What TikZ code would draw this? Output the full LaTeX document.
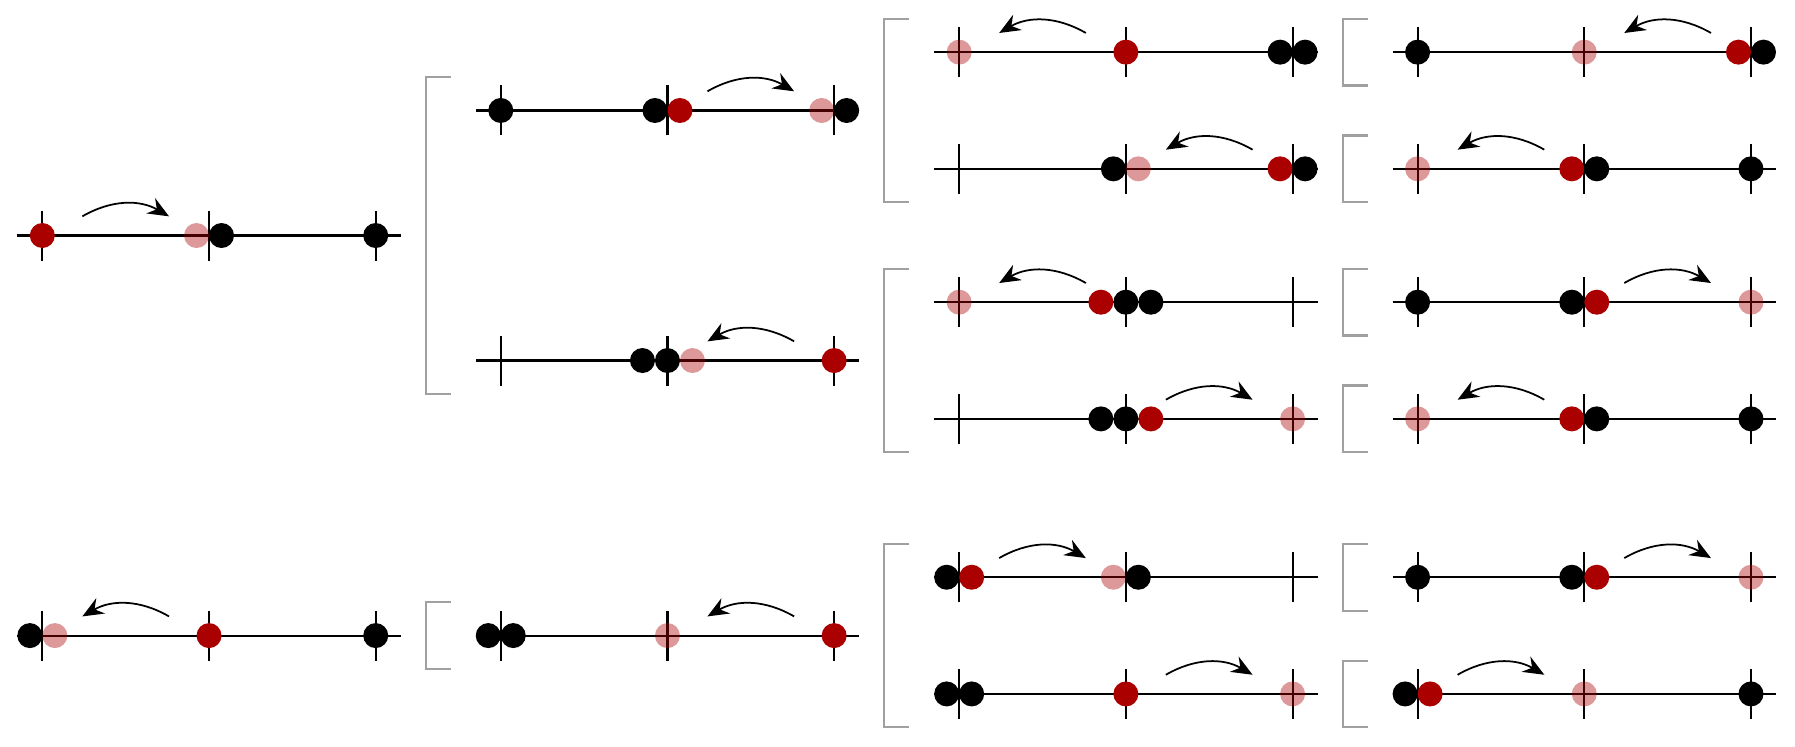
\documentclass[tikz,border=0pt]{standalone}
\usepackage{xcolor}
\definecolor{fichared}{RGB}{170,0,0}
\definecolor{corchgris}{RGB}{160,160,160}
\usepackage{tikz}
\usetikzlibrary{arrows.meta}

\tikzset{
  eje/.style={line width=0.6pt,black},
  negra/.style={fill=black},
  roja/.style={fill=fichared},
  sombra/.style={fill=fichared,fill opacity=0.4},
  salto/.style={line width=0.5pt,-{Stealth[length=6pt,width=5pt,inset=2pt]}},
  llave/.style={line width=0.6pt,corchgris}
}
% recta con tres marcas: #1 = x de la primera marca, #2 = y
\newcommand{\recta}[2]{%
  \draw[eje] (#1-0.15,#2) -- (#1+2.15,#2);
  \foreach \m in {0,1,2}{\draw[eje] (#1+\m,#2-0.15) -- (#1+\m,#2+0.15);}
}
% fichas: lista posicion/estilo
\newcommand{\fichas}[3]{%
  \foreach \p/\est in {#3}{\fill[\est] (#1+\p,#2) circle (0.075);}
}
% saltos dentro del tramo #3 (0 o 1)
\newcommand{\saltoder}[3]{\draw[salto] (#1+#3+0.24,#2+0.115) to[bend left=30] (#1+#3+0.76,#2+0.115);}
\newcommand{\saltoizq}[3]{\draw[salto] (#1+#3+0.76,#2+0.115) to[bend right=30] (#1+#3+0.24,#2+0.115);}
% corchete gris de #2 (arriba) a #3 (abajo)
\newcommand{\corchete}[3]{\draw[llave] (#1-0.3,#2+0.2) -- (#1-0.45,#2+0.2) -- (#1-0.45,#3-0.2) -- (#1-0.3,#3-0.2);}

\begin{document}
\begin{tikzpicture}[x=1.6667cm,y=1.6667cm]
  \useasboundingbox (-0.254,-0.318) rectangle (10.514,4.163);
  % Primera columna
  \recta{0}{2.75} \fichas{0}{2.75}{0/roja,0.925/sombra,1.075/negra,2/negra} \saltoder{0}{2.75}{0}
  \recta{0}{0.35} \fichas{0}{0.35}{-0.075/negra,0.075/sombra,1/roja,2/negra} \saltoizq{0}{0.35}{0}
  % Segunda columna
  \corchete{2.75}{3.5}{2.0}
  \recta{2.75}{3.5} \fichas{2.75}{3.5}{0/negra,0.925/negra,1.075/roja,1.925/sombra,2.075/negra} \saltoder{2.75}{3.5}{1}
  \recta{2.75}{2.0} \fichas{2.75}{2.0}{0.85/negra,1/negra,1.15/sombra,2/roja} \saltoizq{2.75}{2.0}{1}
  \corchete{2.75}{0.35}{0.35}
  \recta{2.75}{0.35} \fichas{2.75}{0.35}{-0.075/negra,0.075/negra,1/sombra,2/roja} \saltoizq{2.75}{0.35}{1}
  % Tercera columna
  \corchete{5.5}{3.85}{3.15}
  \corchete{5.5}{2.35}{1.65}
  \corchete{5.5}{0.7}{0}
  \recta{5.5}{3.85} \fichas{5.5}{3.85}{0/sombra,1/roja,1.925/negra,2.075/negra} \saltoizq{5.5}{3.85}{0}
  \recta{5.5}{3.15} \fichas{5.5}{3.15}{0.925/negra,1.075/sombra,1.925/roja,2.075/negra} \saltoizq{5.5}{3.15}{1}
  \recta{5.5}{2.35} \fichas{5.5}{2.35}{0/sombra,0.85/roja,1/negra,1.15/negra} \saltoizq{5.5}{2.35}{0}
  \recta{5.5}{1.65} \fichas{5.5}{1.65}{0.85/negra,1/negra,1.15/roja,2/sombra} \saltoder{5.5}{1.65}{1}
  \recta{5.5}{0.7} \fichas{5.5}{0.7}{-0.075/negra,0.075/roja,0.925/sombra,1.075/negra} \saltoder{5.5}{0.7}{0}
  \recta{5.5}{0} \fichas{5.5}{0}{-0.075/negra,0.075/negra,1/roja,2/sombra} \saltoder{5.5}{0}{1}
  % Cuarta columna
  \foreach \y in {3.85,3.15,2.35,1.65,0.7,0}{\corchete{8.25}{\y}{\y}}
  \recta{8.25}{3.85} \fichas{8.25}{3.85}{0/negra,1/sombra,1.925/roja,2.075/negra} \saltoizq{8.25}{3.85}{1}
  \recta{8.25}{3.15} \fichas{8.25}{3.15}{0/sombra,0.925/roja,1.075/negra,2/negra} \saltoizq{8.25}{3.15}{0}
  \recta{8.25}{2.35} \fichas{8.25}{2.35}{0/negra,0.925/negra,1.075/roja,2/sombra} \saltoder{8.25}{2.35}{1}
  \recta{8.25}{1.65} \fichas{8.25}{1.65}{0/sombra,0.925/roja,1.075/negra,2/negra} \saltoizq{8.25}{1.65}{0}
  \recta{8.25}{0.7} \fichas{8.25}{0.7}{0/negra,0.925/negra,1.075/roja,2/sombra} \saltoder{8.25}{0.7}{1}
  \recta{8.25}{0} \fichas{8.25}{0}{-0.075/negra,0.075/roja,1/sombra,2/negra} \saltoder{8.25}{0}{0}
\end{tikzpicture}
\end{document}
